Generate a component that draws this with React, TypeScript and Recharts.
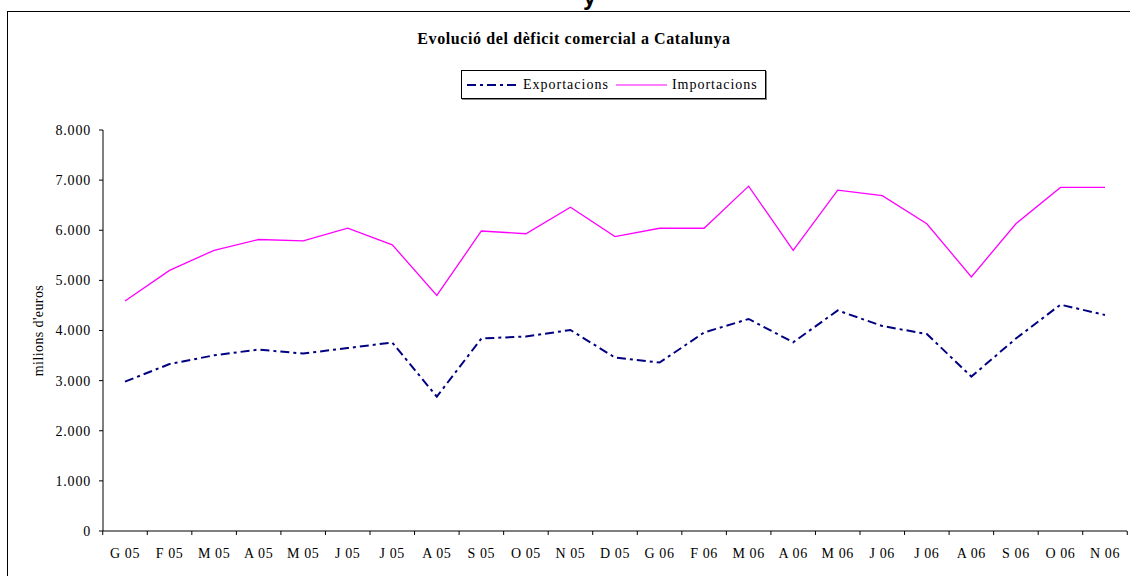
import React from 'react';
import { LineChart, Line, XAxis, YAxis } from 'recharts';

const months = [
  'G 05', 'F 05', 'M 05', 'A 05', 'M 05', 'J 05', 'J 05', 'A 05', 'S 05', 'O 05', 'N 05', 'D 05',
  'G 06', 'F 06', 'M 06', 'A 06', 'M 06', 'J 06', 'J 06', 'A 06', 'S 06', 'O 06', 'N 06',
];

const exportacions = [
  2980, 3330, 3505, 3620, 3540, 3650, 3760, 2680, 3840, 3880, 4010, 3460,
  3360, 3960, 4230, 3765, 4400, 4090, 3930, 3080, 3840, 4515, 4310,
];

const importacions = [
  4590, 5200, 5600, 5815, 5790, 6040, 5710, 4700, 5985, 5930, 6460, 5875,
  6040, 6040, 6880, 5600, 6800, 6690, 6130, 5070, 6130, 6855, 6855,
];

const yTicks = [0, 1000, 2000, 3000, 4000, 5000, 6000, 7000, 8000];

const data = months.map((m, i) => ({
  key: `${m}-${i}`,
  month: m,
  exp: exportacions[i],
  imp: importacions[i],
}));

const SERIF = '"Liberation Serif", "DejaVu Serif", serif';
const NAVY = '#000080';
const MAGENTA = '#FF00FF';
const DASH = '9 4 3 4';

function fmtThousands(v: number) {
  return v.toLocaleString('de-DE');
}

// Excel-style category ticks sit between categories, so draw them half a step off
function MonthTick(props: any) {
  const { x, y, index } = props;
  const half = 22.26;
  const last = index === months.length - 1;
  return (
    <g>
      <line x1={x - half} y1={y - 8} x2={x - half} y2={y - 4} stroke="#000" />
      {last && <line x1={x + half} y1={y - 8} x2={x + half} y2={y - 4} stroke="#000" />}
      <text
        x={x}
        y={y + 19}
        textAnchor="middle"
        fontFamily={SERIF}
        fontSize={14}
        letterSpacing={0.6}
        fill="#000"
      >
        {months[index]}
      </text>
    </g>
  );
}

function LegendBox() {
  return (
    <div
      style={{
        position: 'absolute',
        left: 461,
        top: 70,
        width: 305,
        height: 29,
        border: '1px solid #000',
        boxShadow: '1px 1px 0 #888',
        background: '#fff',
        display: 'flex',
        alignItems: 'center',
        fontFamily: SERIF,
        fontSize: 14,
        letterSpacing: 1,
        color: '#000',
        boxSizing: 'border-box',
        whiteSpace: 'nowrap',
      }}
    >
      <svg width={51} height={10} style={{ marginLeft: 5 }}>
        <line x1={0} y1={5} x2={51} y2={5} stroke={NAVY} strokeWidth={2} strokeDasharray={DASH} />
      </svg>
      <span style={{ marginLeft: 5 }}>Exportacions</span>
      <svg width={51} height={10} style={{ marginLeft: 7 }}>
        <line x1={0} y1={5} x2={51} y2={5} stroke={MAGENTA} strokeWidth={1} />
      </svg>
      <span style={{ marginLeft: 5 }}>Importacions</span>
    </div>
  );
}

export default function App() {
  return (
    <div
      style={{
        position: 'absolute',
        left: 0,
        top: 0,
        width: 1130,
        height: 576,
        overflow: 'hidden',
        background: '#fff',
      }}
    >
      <div
        style={{
          position: 'absolute',
          left: 583,
          top: -17,
          fontFamily: '"Liberation Sans", Arial, sans-serif',
          fontWeight: 'bold',
          fontSize: 24,
          color: '#000',
        }}
      >
        y
      </div>
      <div style={{ position: 'absolute', left: 7, top: 11, width: 1123, height: 1, background: '#000' }} />
      <div style={{ position: 'absolute', left: 7, top: 11, width: 1, height: 565, background: '#000' }} />
      <div
        style={{
          position: 'absolute',
          left: 0,
          top: 30,
          width: 1148,
          textAlign: 'center',
          fontFamily: SERIF,
          fontWeight: 'bold',
          fontSize: 16,
          letterSpacing: 0.6,
          color: '#000',
        }}
      >
        Evolució del dèficit comercial a Catalunya
      </div>
      <div style={{ position: 'absolute', left: 0, top: 0 }}>
        <LineChart
          width={1130}
          height={576}
          data={data}
          margin={{ top: 130, right: 3, bottom: 0, left: 0 }}
        >
          <XAxis
            dataKey="key"
            padding={{ left: 22, right: 22 }}
            stroke="#000"
            tickLine={false}
            interval={0}
            tick={<MonthTick />}
            height={45}
          />
          <YAxis
            domain={[0, 8000]}
            ticks={yTicks}
            width={103}
            stroke="#000"
            tickSize={4}
            tickMargin={8}
            tickFormatter={fmtThousands}
            tick={{ fontFamily: SERIF, fontSize: 14, fill: '#000', letterSpacing: 0.8 }}
            interval={0}
            label={{
              value: "milions d'euros",
              angle: -90,
              position: 'center',
              dx: -13,
              style: { fontFamily: SERIF, fontSize: 14, fill: '#000', textAnchor: 'middle', letterSpacing: 0.4 },
            }}
          />
          <Line
            type="linear"
            dataKey="exp"
            name="Exportacions"
            stroke={NAVY}
            strokeWidth={2}
            strokeDasharray={DASH}
            dot={false}
            activeDot={false}
            isAnimationActive={false}
          />
          <Line
            type="linear"
            dataKey="imp"
            name="Importacions"
            stroke={MAGENTA}
            strokeWidth={1.3}
            dot={false}
            activeDot={false}
            isAnimationActive={false}
          />
        </LineChart>
      </div>
      <LegendBox />
    </div>
  );
}
